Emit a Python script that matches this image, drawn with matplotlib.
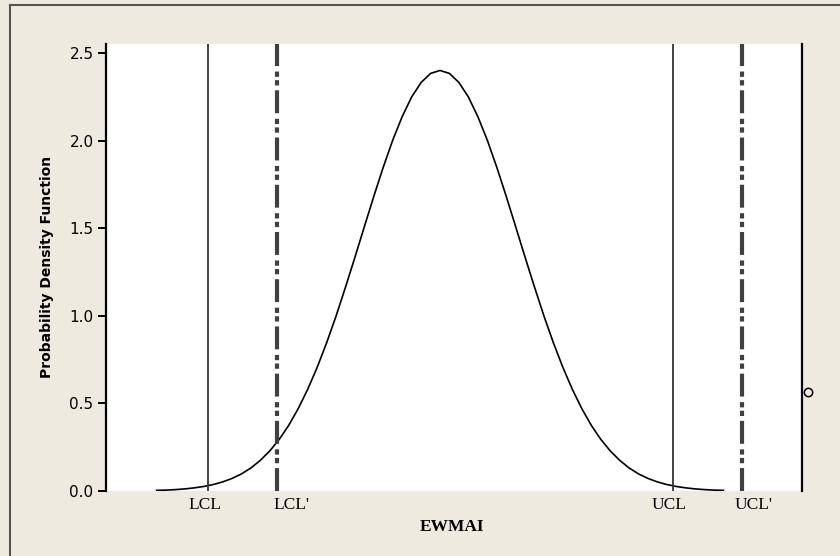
import matplotlib
matplotlib.use("Agg")
import matplotlib.pyplot as plt
from matplotlib.lines import Line2D

# EWMAI values (x) and density
ewma_x = [0.40, 0.42, 0.44, 0.46, 0.48, 0.50, 0.52, 0.54, 0.56, 0.58,
          0.60, 0.62, 0.64, 0.66, 0.68, 0.70, 0.72, 0.74, 0.76, 0.78,
          0.80, 0.82, 0.84, 0.86, 0.88, 0.90, 0.92, 0.94, 0.96, 0.98,
          1.00, 1.02, 1.04, 1.06, 1.08, 1.10, 1.12, 1.14, 1.16, 1.18,
          1.20, 1.22, 1.24, 1.26, 1.28, 1.30, 1.32, 1.34, 1.36, 1.38,
          1.40, 1.42, 1.44, 1.46, 1.48, 1.50, 1.52, 1.54, 1.56, 1.58,
          1.60]
pdf_y = [0.004, 0.005, 0.008, 0.012, 0.018, 0.026, 0.037, 0.052, 0.072, 0.098,
         0.132, 0.176, 0.230, 0.296, 0.376, 0.471, 0.581, 0.706, 0.846, 0.999,
         1.164, 1.335, 1.510, 1.683, 1.849, 2.003, 2.137, 2.249, 2.331, 2.383,
         2.400, 2.383, 2.331, 2.249, 2.137, 2.003, 1.849, 1.683, 1.510, 1.335,
         1.164, 0.999, 0.846, 0.706, 0.581, 0.471, 0.376, 0.296, 0.230, 0.176,
         0.132, 0.098, 0.072, 0.052, 0.037, 0.026, 0.018, 0.012, 0.008, 0.005,
         0.004]

# control limits
limits = [0.509, 1.493]          # LCL, UCL
limits_new = [0.655, 1.639]      # LCL', UCL'
tick_pos = [0.502, 0.686, 1.484, 1.664]
tick_labels = ["LCL", "LCL'", "UCL", "UCL'"]
yticks = [0.0, 0.5, 1.0, 1.5, 2.0, 2.5]
marker_pt = (1.779, 0.565)

BG = "#EEEAE0"

matplotlib.rcParams['lines.scale_dashes'] = False

fig = plt.figure(figsize=(8.4, 5.56), dpi=100, facecolor=BG)
ax = fig.add_axes([0.1262, 0.1169, 0.8286, 0.8040])
ax.set_facecolor("white")

ax.plot(ewma_x, pdf_y, color="black", lw=1.2)

for x in limits:
    ax.axvline(x, color="#333333", lw=1.3)
for x in limits_new:
    ax.axvline(x, color="#404040", lw=3.0, dashes=(16.5, 3.5, 3.8, 2.4, 3.8, 4.0),
               solid_capstyle="butt", dash_capstyle="butt")

ax.plot([marker_pt[0]], [marker_pt[1]], marker="o", ms=6, mfc="none",
        mec="black", mew=1.1, clip_on=False)

ax.set_xlim(0.2929, 1.7664)
ax.set_ylim(0, 2.551)

for side in ["top", "bottom"]:
    ax.spines[side].set_visible(False)
ax.spines["left"].set_linewidth(1.6)
ax.spines["right"].set_linewidth(1.6)
ax.spines["left"].set_color("black")
ax.spines["right"].set_color("black")

ax.set_yticks(yticks)
ax.set_yticklabels(["%.1f" % v for v in yticks], fontsize=11, family="DejaVu Sans")
ax.tick_params(axis="y", direction="out", length=6, width=1.4, pad=3)

ax.set_xticks(tick_pos)
ax.set_xticklabels(tick_labels, fontsize=12.5, family="Liberation Serif")
ax.tick_params(axis="x", length=0, pad=4)

fig.text(452 / 840, 1 - 527 / 556, "EWMAI", ha="center", va="center",
         fontsize=12.5, fontweight="bold", family="Liberation Serif")
fig.text(47 / 840, 1 - 267 / 556, "Probability Density Function", ha="center",
         va="center", rotation=90, fontsize=10, fontweight="bold",
         family="DejaVu Sans")

# frame lines (top and left edges)
fig.add_artist(Line2D([10 / 840, 1], [1 - 5 / 556, 1 - 5 / 556],
                      transform=fig.transFigure, color="#555555", lw=1.5))
fig.add_artist(Line2D([10 / 840, 10 / 840], [0, 1 - 5 / 556],
                      transform=fig.transFigure, color="#555555", lw=1.5))

fig.savefig("out.png", dpi=100, facecolor=BG)
